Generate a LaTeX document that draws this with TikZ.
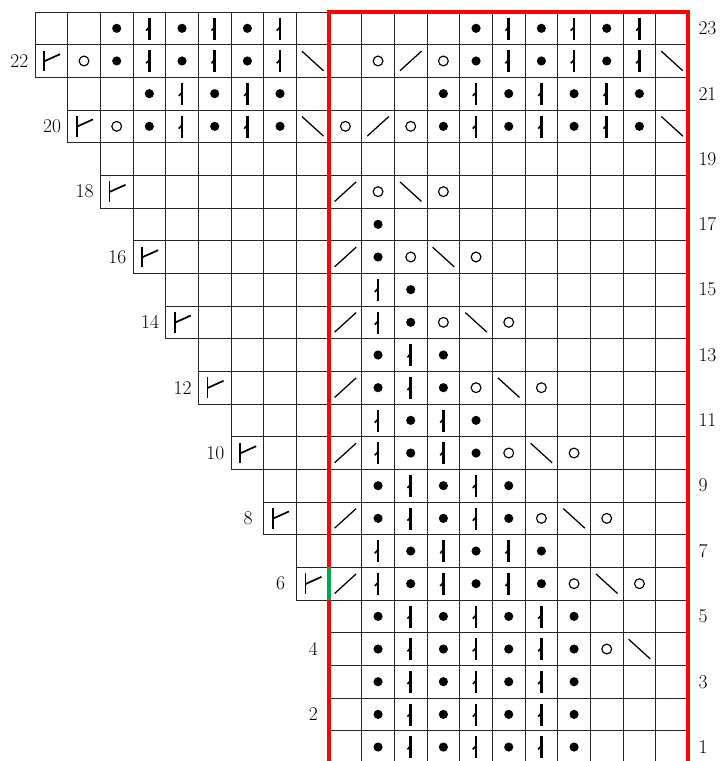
\documentclass[tikz,border=0pt]{standalone}
\usepackage{tikz}
\definecolor{chartred}{RGB}{255, 0, 0}
\definecolor{chartgreen}{RGB}{0, 166, 81}

\tikzset{
  gridline/.style={black!85, line width=0.75pt},
  redline/.style={chartred, line width=3.5pt, line join=miter},
  greenline/.style={chartgreen, line width=3.5pt},
  rownum/.style={font=\fontsize{17}{17}\selectfont, inner sep=1.5pt},
  pics/dot/.style={code={\fill (0,0) circle (0.14);}},
  pics/yo/.style={code={\draw[line width=1pt] (0,0) circle (0.15);}},
  pics/kk/.style={code={\draw[line width=1.1pt] (-0.33,-0.3) -- (0.33,0.3);}},
  pics/ss/.style={code={\draw[line width=1.1pt] (-0.33,0.3) -- (0.33,-0.3);}},
  pics/tw/.style={code={
    \draw[line width=2.4pt] (0,0.33) -- (0,-0.35);
    \draw[line width=1.4pt] (0,0.04) -- (-0.1,-0.07);}},
  pics/flag/.style={code={
    \draw[line width=1.6pt] (-0.22,0.32) -- (-0.22,-0.32);
    \draw[line width=1.5pt] (-0.22,-0.01) -- (0.27,0.21);}},
}

\begin{document}
\begin{tikzpicture}
  \useasboundingbox (-1.072,0.073) rectangle (20.95,23.367);

  % grid, row by row: row / first column
  \foreach \r/\s in {23/1,22/1,21/2,20/2,19/3,18/3,17/4,16/4,15/5,14/5,13/6,12/6,
                     11/7,10/7,9/8,8/8,7/9,6/9,5/10,4/10,3/10,2/10,1/10}
    \draw[gridline] (\s-1,\r-1) grid (20,\r);

  % stitches: row / {column/symbol}
  \foreach \r/\cells in {
      23/{3/dot,4/tw,5/dot,6/tw,7/dot,8/tw,14/dot,15/tw,16/dot,17/tw,18/dot,19/tw},
      22/{1/flag,2/yo,3/dot,4/tw,5/dot,6/tw,7/dot,8/tw,9/ss,11/yo,12/kk,13/yo,14/dot,15/tw,16/dot,17/tw,18/dot,19/tw,20/ss},
      21/{4/dot,5/tw,6/dot,7/tw,8/dot,13/dot,14/tw,15/dot,16/tw,17/dot,18/tw,19/dot},
      20/{2/flag,3/yo,4/dot,5/tw,6/dot,7/tw,8/dot,9/ss,10/yo,11/kk,12/yo,13/dot,14/tw,15/dot,16/tw,17/dot,18/tw,19/dot,20/ss},
      18/{3/flag,10/kk,11/yo,12/ss,13/yo},
      17/{11/dot},
      16/{4/flag,10/kk,11/dot,12/yo,13/ss,14/yo},
      15/{11/tw,12/dot},
      14/{5/flag,10/kk,11/tw,12/dot,13/yo,14/ss,15/yo},
      13/{11/dot,12/tw,13/dot},
      12/{6/flag,10/kk,11/dot,12/tw,13/dot,14/yo,15/ss,16/yo},
      11/{11/tw,12/dot,13/tw,14/dot},
      10/{7/flag,10/kk,11/tw,12/dot,13/tw,14/dot,15/yo,16/ss,17/yo},
      9/{11/dot,12/tw,13/dot,14/tw,15/dot},
      8/{8/flag,10/kk,11/dot,12/tw,13/dot,14/tw,15/dot,16/yo,17/ss,18/yo},
      7/{11/tw,12/dot,13/tw,14/dot,15/tw,16/dot},
      6/{9/flag,10/kk,11/tw,12/dot,13/tw,14/dot,15/tw,16/dot,17/yo,18/ss,19/yo},
      5/{11/dot,12/tw,13/dot,14/tw,15/dot,16/tw,17/dot},
      4/{11/dot,12/tw,13/dot,14/tw,15/dot,16/tw,17/dot,18/yo,19/ss},
      3/{11/dot,12/tw,13/dot,14/tw,15/dot,16/tw,17/dot},
      2/{11/dot,12/tw,13/dot,14/tw,15/dot,16/tw,17/dot},
      1/{11/dot,12/tw,13/dot,14/tw,15/dot,16/tw,17/dot}}
    \foreach \c/\k in \cells
      \pic at (\c-0.5,\r-0.5) {\k};

  % pattern repeat
  \draw[redline] (9,0) -- (9,23) -- (20,23) -- (20,0);
  \draw[greenline] (9,5) -- (9,6);

  % row numbers
  \foreach \r/\x in {22/0,20/1,18/2,16/3,14/4,12/5,10/6,8/7,6/8,4/9,2/9}
    \node[rownum] (L\r) at (\x-0.48,\r-0.5) {\r};
  \foreach \r in {23,21,...,1}
    \node[rownum, anchor=west] (R\r) at (20.25,\r-0.5) {\r};
\end{tikzpicture}
\end{document}
